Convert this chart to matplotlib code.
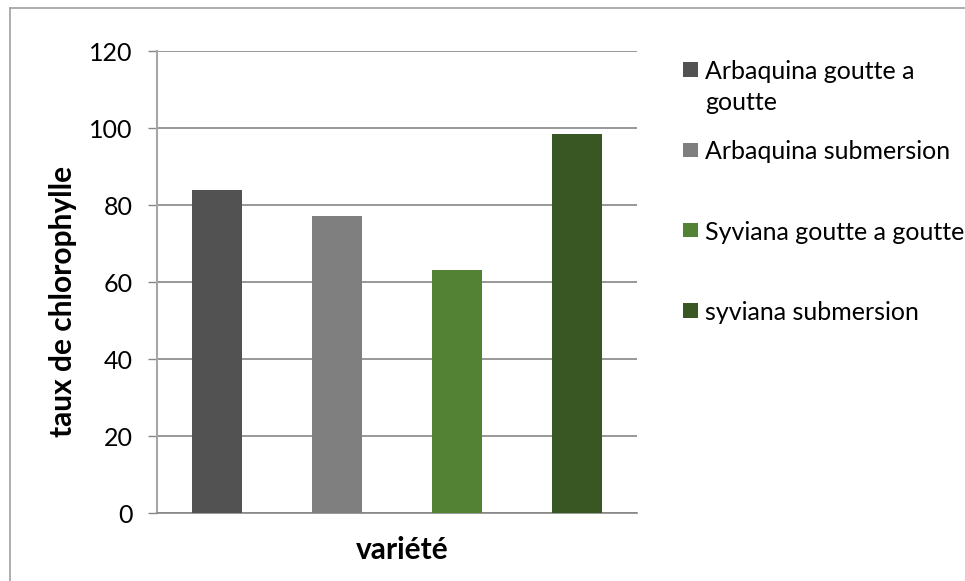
import matplotlib
matplotlib.use("Agg")
import matplotlib.pyplot as plt
from matplotlib.patches import Rectangle
from matplotlib.lines import Line2D

# Chlorophyll content per variety / irrigation mode
series_labels = ["Arbaquina goutte a\ngoutte", "Arbaquina submersion",
                 "Syviana goutte a goutte", "syviana submersion"]
values = [84.0, 77.2, 63.2, 98.5]
colors = ["#525252", "#7f7f7f", "#548235", "#385723"]
y_ticks = [0, 20, 40, 60, 80, 100, 120]
x_title = "variété"
y_title = "taux de chlorophylle"

W, H = 965, 581
plt.rcParams["font.family"] = ["Lato", "DejaVu Sans"]

fig = plt.figure(figsize=(W / 100, H / 100), dpi=100)
fig.patch.set_facecolor("white")

def fx(px):
    return px / W

def fy(py):
    return 1 - py / H

ax_l, ax_r, ax_t, ax_b = 157, 637, 51.3, 513.3
ax = fig.add_axes([fx(ax_l), fy(ax_b), fx(ax_r - ax_l), (ax_b - ax_t) / H])

x = list(range(len(values)))
ax.bar(x, values, width=0.41, color=colors, zorder=3)

ax.set_xlim(-0.5, len(values) - 0.5)
ax.set_ylim(0, 120)
ax.set_yticks(y_ticks)
ax.set_xticks([])
ax.tick_params(axis="y", length=6.5, width=1, color="#868686", pad=11,
               labelsize=18, labelcolor="black")
ax.yaxis.grid(True, color="#868686", linewidth=1.2, zorder=0)
for side in ("top", "right"):
    ax.spines[side].set_visible(False)
ax.spines["left"].set_color("#a6a6a6")
ax.spines["left"].set_linewidth(1.5)
ax.spines["bottom"].set_color("#868686")
ax.spines["bottom"].set_linewidth(1.2)

# axis titles
fig.text(fx(63), fy(301), y_title, rotation=90, ha="center", va="center",
         fontsize=21.5, fontweight="bold")
fig.text(fx(402), fy(550), x_title, ha="center", va="center",
         fontsize=21.5, fontweight="bold")

# legend, drawn entry by entry
mk_x, txt_x, mk = 683, 705, 14.5
first_y, step, line_h = 69.5, 80.3, 31.5
for i, (lab, col) in enumerate(zip(series_labels, colors)):
    cy = first_y + i * step
    fig.patches.append(Rectangle((fx(mk_x), fy(cy + mk / 2)), fx(mk), mk / H,
                                 transform=fig.transFigure, facecolor=col,
                                 edgecolor="none"))
    for j, line in enumerate(lab.split("\n")):
        fig.text(fx(txt_x), fy(cy + j * line_h), line, ha="left",
                 va="center_baseline", fontsize=18)

# outer chart frame
frame_col = "#a0a0a0"
fig.lines.append(Line2D([fx(10), fx(10)], [fy(8), 0], transform=fig.transFigure,
                        color=frame_col, linewidth=1.2))
fig.lines.append(Line2D([fx(10), 1], [fy(8), fy(8)], transform=fig.transFigure,
                        color=frame_col, linewidth=1.2))

fig.savefig("out.png", dpi=100, facecolor="white")
